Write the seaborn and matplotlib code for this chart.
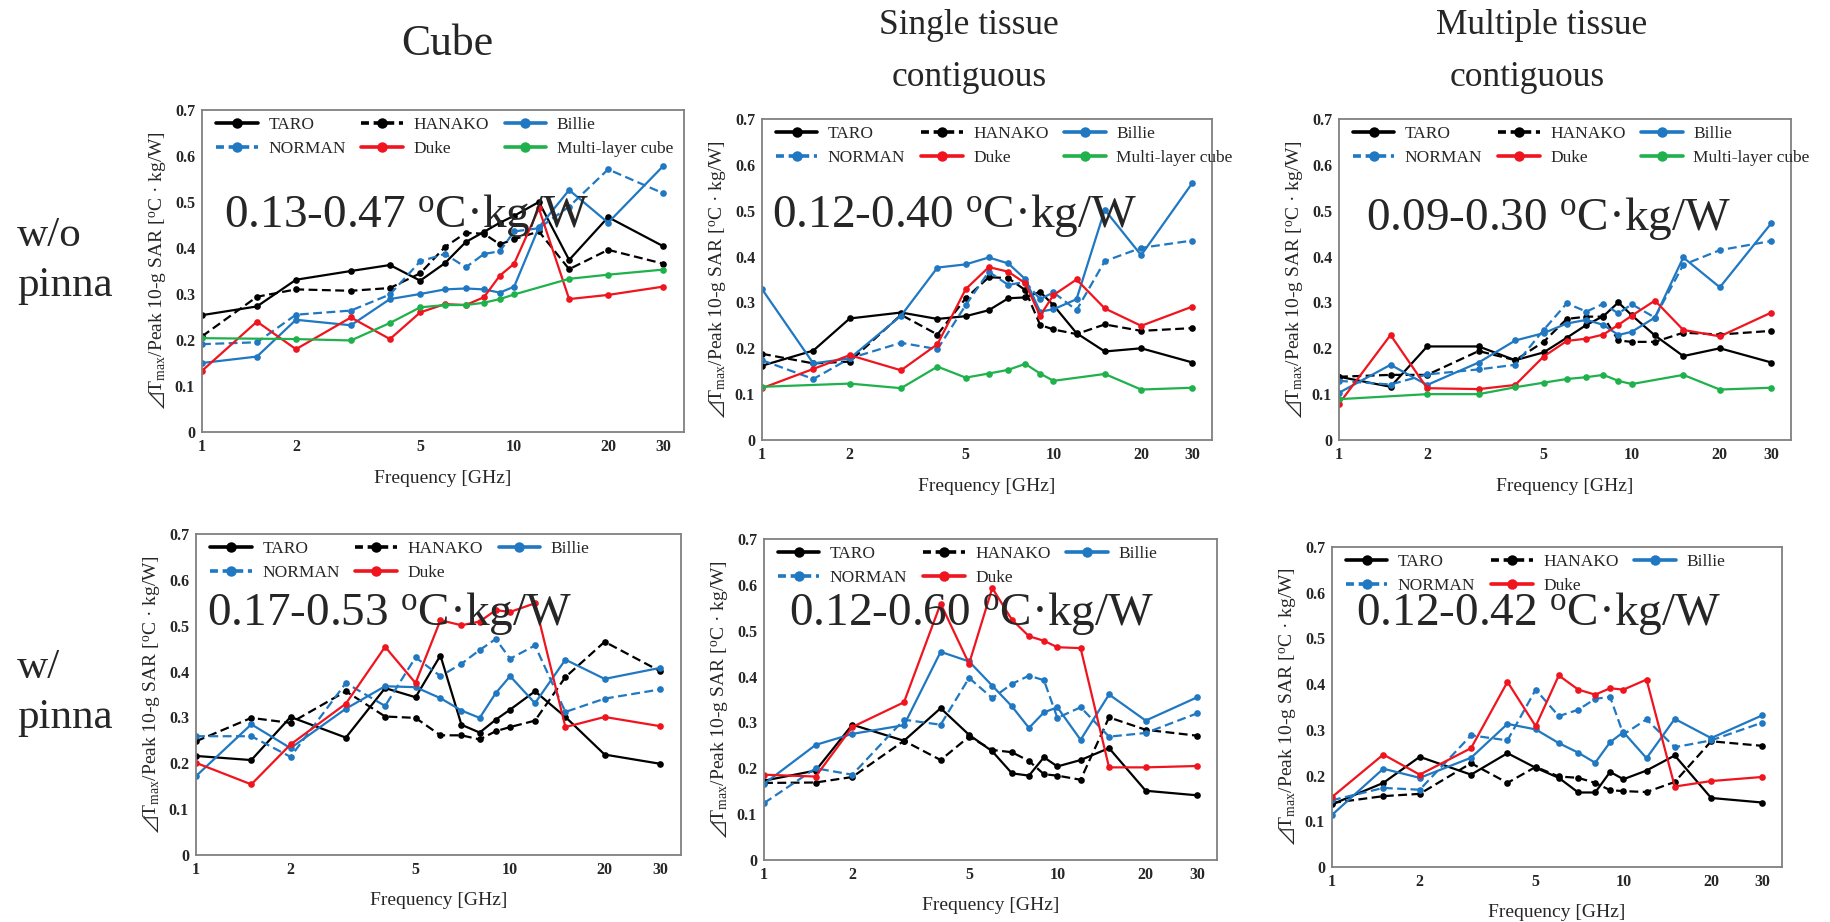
import numpy as np
import pandas as pd
import matplotlib
matplotlib.use("Agg")
import matplotlib.pyplot as plt
import seaborn as sns
from matplotlib.lines import Line2D
from matplotlib.ticker import FixedLocator, FixedFormatter, NullFormatter

# ---------------- data ----------------
freq = [1, 1.5, 2, 3, 4, 5, 6, 7, 8, 9, 10, 12, 15, 20, 30]
freq_cube = [1, 2, 3, 4, 5, 6, 7, 8, 9, 10, 15, 20, 30]
xtick_major = [1, 2, 5, 10, 20, 30]
xtick_minor = [3, 4, 6, 7, 8, 9, 15]
ytick_vals = [0, 0.1, 0.2, 0.3, 0.4, 0.5, 0.6, 0.7]

row_titles = ["w/o\npinna", "w/\npinna"]
range_labels = ["0.13-0.47", "0.12-0.40", "0.09-0.30",
                "0.17-0.53", "0.12-0.60", "0.12-0.42"]

# w/o pinna, Cube
a_taro = [0.254, 0.273, 0.331, 0.350, 0.363, 0.329, 0.367, 0.413, 0.435, 0.455, 0.470, 0.500, 0.374, 0.467, 0.404]
a_hanako = [0.208, 0.294, 0.310, 0.307, 0.313, 0.345, 0.402, 0.433, 0.431, 0.408, 0.419, 0.436, 0.354, 0.396, 0.366]
a_billie = [0.150, 0.164, 0.244, 0.232, 0.289, 0.300, 0.310, 0.312, 0.310, 0.303, 0.316, 0.445, 0.526, 0.455, 0.578]
a_norman = [0.191, 0.195, 0.255, 0.264, 0.299, 0.371, 0.387, 0.358, 0.387, 0.393, 0.436, 0.443, 0.490, 0.571, 0.519]
a_duke = [0.133, 0.240, 0.180, 0.249, 0.202, 0.260, 0.278, 0.276, 0.293, 0.340, 0.366, 0.486, 0.289, 0.298, 0.316]
a_multi = [0.204, 0.202, 0.199, 0.237, 0.271, 0.276, 0.276, 0.281, 0.289, 0.299, 0.333, 0.342, 0.353]

# w/o pinna, Single tissue contiguous
b_taro = [0.162, 0.195, 0.265, 0.278, 0.264, 0.270, 0.283, 0.309, 0.311, 0.323, 0.294, 0.233, 0.193, 0.200, 0.169]
b_hanako = [0.188, 0.167, 0.171, 0.273, 0.230, 0.309, 0.355, 0.353, 0.327, 0.251, 0.241, 0.231, 0.252, 0.238, 0.244]
b_billie = [0.329, 0.167, 0.178, 0.271, 0.376, 0.383, 0.398, 0.385, 0.351, 0.280, 0.285, 0.307, 0.502, 0.403, 0.561]
b_norman = [0.174, 0.133, 0.178, 0.212, 0.198, 0.294, 0.367, 0.338, 0.345, 0.307, 0.322, 0.283, 0.390, 0.419, 0.435]
b_duke = [0.113, 0.155, 0.185, 0.152, 0.209, 0.329, 0.377, 0.367, 0.342, 0.271, 0.316, 0.350, 0.287, 0.249, 0.291]
b_multi = [0.116, 0.123, 0.113, 0.160, 0.136, 0.145, 0.153, 0.166, 0.145, 0.129, 0.144, 0.110, 0.114]

# w/o pinna, Multiple tissue contiguous
c_taro = [0.138, 0.116, 0.204, 0.204, 0.174, 0.191, 0.223, 0.251, 0.270, 0.300, 0.272, 0.228, 0.183, 0.200, 0.169]
c_hanako = [0.138, 0.142, 0.142, 0.194, 0.174, 0.214, 0.264, 0.269, 0.269, 0.217, 0.214, 0.214, 0.234, 0.230, 0.238]
c_billie = [0.103, 0.164, 0.120, 0.169, 0.217, 0.233, 0.254, 0.262, 0.251, 0.229, 0.236, 0.267, 0.398, 0.333, 0.473]
c_norman = [0.129, 0.121, 0.143, 0.154, 0.164, 0.240, 0.298, 0.280, 0.297, 0.276, 0.296, 0.267, 0.382, 0.414, 0.434]
c_duke = [0.079, 0.229, 0.113, 0.111, 0.120, 0.182, 0.216, 0.221, 0.230, 0.251, 0.271, 0.304, 0.240, 0.226, 0.278]
c_multi = [0.089, 0.100, 0.100, 0.115, 0.125, 0.133, 0.137, 0.142, 0.129, 0.122, 0.142, 0.110, 0.114]

# w/ pinna, Cube
d_taro = [0.216, 0.207, 0.301, 0.256, 0.364, 0.344, 0.435, 0.284, 0.267, 0.295, 0.317, 0.357, 0.301, 0.219, 0.199]
d_hanako = [0.248, 0.299, 0.288, 0.357, 0.302, 0.299, 0.261, 0.261, 0.252, 0.270, 0.279, 0.293, 0.388, 0.465, 0.401]
d_billie = [0.172, 0.285, 0.233, 0.319, 0.368, 0.366, 0.342, 0.315, 0.299, 0.353, 0.390, 0.331, 0.426, 0.384, 0.408]
d_norman = [0.259, 0.259, 0.214, 0.375, 0.325, 0.431, 0.390, 0.417, 0.447, 0.471, 0.428, 0.457, 0.312, 0.341, 0.361]
d_duke = [0.201, 0.154, 0.241, 0.330, 0.454, 0.375, 0.512, 0.501, 0.509, 0.534, 0.530, 0.549, 0.279, 0.301, 0.281]

# w/ pinna, Single tissue contiguous
e_taro = [0.173, 0.195, 0.295, 0.260, 0.331, 0.273, 0.237, 0.189, 0.184, 0.224, 0.204, 0.218, 0.244, 0.151, 0.141]
e_hanako = [0.168, 0.169, 0.181, 0.260, 0.218, 0.269, 0.240, 0.235, 0.216, 0.187, 0.184, 0.175, 0.311, 0.284, 0.271]
e_billie = [0.166, 0.251, 0.275, 0.294, 0.454, 0.433, 0.380, 0.335, 0.288, 0.322, 0.333, 0.262, 0.361, 0.304, 0.355]
e_norman = [0.124, 0.200, 0.186, 0.306, 0.295, 0.397, 0.353, 0.384, 0.402, 0.392, 0.310, 0.333, 0.269, 0.277, 0.320]
e_duke = [0.186, 0.182, 0.290, 0.344, 0.559, 0.428, 0.593, 0.524, 0.488, 0.478, 0.464, 0.462, 0.202, 0.202, 0.205]

# w/ pinna, Multiple tissue contiguous
f_taro = [0.137, 0.184, 0.241, 0.202, 0.249, 0.217, 0.195, 0.163, 0.163, 0.208, 0.192, 0.211, 0.244, 0.151, 0.141]
f_hanako = [0.140, 0.155, 0.160, 0.227, 0.184, 0.219, 0.198, 0.195, 0.184, 0.168, 0.166, 0.164, 0.186, 0.275, 0.265]
f_billie = [0.114, 0.215, 0.195, 0.239, 0.313, 0.301, 0.271, 0.250, 0.228, 0.273, 0.295, 0.238, 0.324, 0.282, 0.332]
f_norman = [0.146, 0.173, 0.169, 0.288, 0.277, 0.388, 0.330, 0.344, 0.368, 0.372, 0.290, 0.323, 0.262, 0.277, 0.316]
f_duke = [0.153, 0.246, 0.202, 0.260, 0.405, 0.308, 0.419, 0.388, 0.377, 0.391, 0.388, 0.410, 0.176, 0.188, 0.197]

model_names = ["TARO", "HANAKO", "Billie", "NORMAN", "Duke", "Multi-layer cube"]

panels = [
    [a_taro, a_hanako, a_billie, a_norman, a_duke, a_multi],
    [b_taro, b_hanako, b_billie, b_norman, b_duke, b_multi],
    [c_taro, c_hanako, c_billie, c_norman, c_duke, c_multi],
    [d_taro, d_hanako, d_billie, d_norman, d_duke],
    [e_taro, e_hanako, e_billie, e_norman, e_duke],
    [f_taro, f_hanako, f_billie, f_norman, f_duke],
]

# ---------------- style ----------------
BLACK = "#000000"
BLUE = "#1f78c1"
RED = "#f0141e"
GREEN = "#1fb14b"
DASH = (0, (4, 2))
LEG_DASH = (0, (2.2, 1.3))
styles = {
    "TARO": (BLACK, False),
    "HANAKO": (BLACK, True),
    "Billie": (BLUE, False),
    "NORMAN": (BLUE, True),
    "Duke": (RED, False),
    "Multi-layer cube": (GREEN, False),
}

sns.set_style("white")
plt.rcParams["font.family"] = ["Liberation Serif", "DejaVu Serif", "DejaVu Sans"]
plt.rcParams["mathtext.fontset"] = "custom"
plt.rcParams["mathtext.rm"] = "Liberation Serif"
plt.rcParams["mathtext.it"] = "Liberation Serif:italic"
plt.rcParams["mathtext.bf"] = "Liberation Serif:bold"
plt.rcParams["mathtext.fallback"] = "stix"

W, H = 1830, 922
fig = plt.figure(figsize=(W / 100, H / 100), dpi=100)

# axes boxes in pixels: left, top, right, bottom
boxes = [
    (202, 110, 684, 432),
    (762, 119, 1212, 440),
    (1339, 119, 1791, 440),
    (196, 534, 681, 855),
    (764, 539, 1217, 860),
    (1332, 547, 1782, 867),
]
text_pos = [(0.046, 0.637), (0.022, 0.664), (0.060, 0.654),
            (0.023, 0.716), (0.055, 0.732), (0.054, 0.756)]

ylab = r"$⊿$T$_{\rm max}$/Peak 10-g SAR [$^{\rm o}$C · kg/W]"

for i, (box, series) in enumerate(zip(boxes, panels)):
    l, t, r, b = box
    ax = fig.add_axes([l / W, 1 - b / H, (r - l) / W, (b - t) / H])
    handles = []
    for name, ys in zip(model_names, series):
        xs = freq_cube if name == "Multi-layer cube" else freq
        df = pd.DataFrame({"Frequency": xs, "Value": ys})
        color, dashed = styles[name]
        sns.lineplot(data=df, x="Frequency", y="Value", ax=ax, color=color,
                     linestyle=DASH if dashed else "-", marker="o", markersize=4.8,
                     markeredgewidth=0, linewidth=1.6, errorbar=None, legend=False)
        handles.append(Line2D([], [], color=color, linestyle=LEG_DASH if dashed else "-",
                              marker="o", markersize=7.5, markeredgewidth=0,
                              linewidth=2.6, label=name))
    ax.set_xscale("log")
    ax.set_xlim(1, 35)
    ax.set_ylim(0, 0.7)
    ax.xaxis.set_major_locator(FixedLocator(xtick_major))
    ax.xaxis.set_major_formatter(FixedFormatter([str(v) for v in xtick_major]))
    ax.xaxis.set_minor_locator(FixedLocator(xtick_minor))
    ax.xaxis.set_minor_formatter(NullFormatter())
    ax.yaxis.set_major_locator(FixedLocator(ytick_vals))
    ax.yaxis.set_major_formatter(FixedFormatter([f"{v:g}" for v in ytick_vals]))
    ax.tick_params(axis="x", which="both", direction="in", length=4, width=1,
                   color="#777777", labelsize=11.5, pad=5)
    ax.tick_params(axis="y", which="both", length=0, labelsize=11.5, pad=5)
    for lab in ax.get_xticklabels() + ax.get_yticklabels():
        lab.set_fontweight("bold")
    for sp in ax.spines.values():
        sp.set_color("#808080")
        sp.set_linewidth(1.3)
        sp.set_visible(True)
    ax.set_xlabel("Frequency [GHz]", fontsize=14, labelpad=11 if i < 3 else 10)
    ax.set_ylabel(ylab, fontsize=14, labelpad=4)

    # legend: column-major order so rows read TARO/HANAKO/Billie, NORMAN/Duke/...
    order = [0, 3, 1, 4, 2, 5] if len(handles) == 6 else [0, 3, 1, 4, 2]
    ax.legend(handles=[handles[k] for k in order], ncol=3, loc="upper left",
              bbox_to_anchor=(0.015, 1), frameon=False, fontsize=12.5,
              handlelength=2.4, handletextpad=0.6, columnspacing=0.9,
              labelspacing=0.45, borderpad=0.2, borderaxespad=0.2)

    tx, ty = text_pos[i]
    ax.text(tx, ty, range_labels[i] + r" $^{\rm o}$C·kg/W", transform=ax.transAxes,
            ha="left", va="baseline", fontsize=34, zorder=10)

# column titles
fig.text(447 / W, 1 - 44 / H, "Cube", ha="center", va="center", fontsize=31.5)
fig.text(969 / W, 1 - 26 / H, "Single tissue", ha="center", va="center", fontsize=25.5)
fig.text(969 / W, 1 - 77 / H, "contiguous", ha="center", va="center", fontsize=25.5)
fig.text(1542 / W, 1 - 26 / H, "Multiple tissue", ha="center", va="center", fontsize=25.5)
fig.text(1527 / W, 1 - 77 / H, "contiguous", ha="center", va="center", fontsize=25.5)
# row titles
fig.text(17 / W, 1 - 261 / H, row_titles[0], ha="left", va="center", fontsize=31,
         linespacing=1.38)
fig.text(17 / W, 1 - 693 / H, row_titles[1], ha="left", va="center", fontsize=31,
         linespacing=1.38)

fig.savefig("out.png", dpi=100)
